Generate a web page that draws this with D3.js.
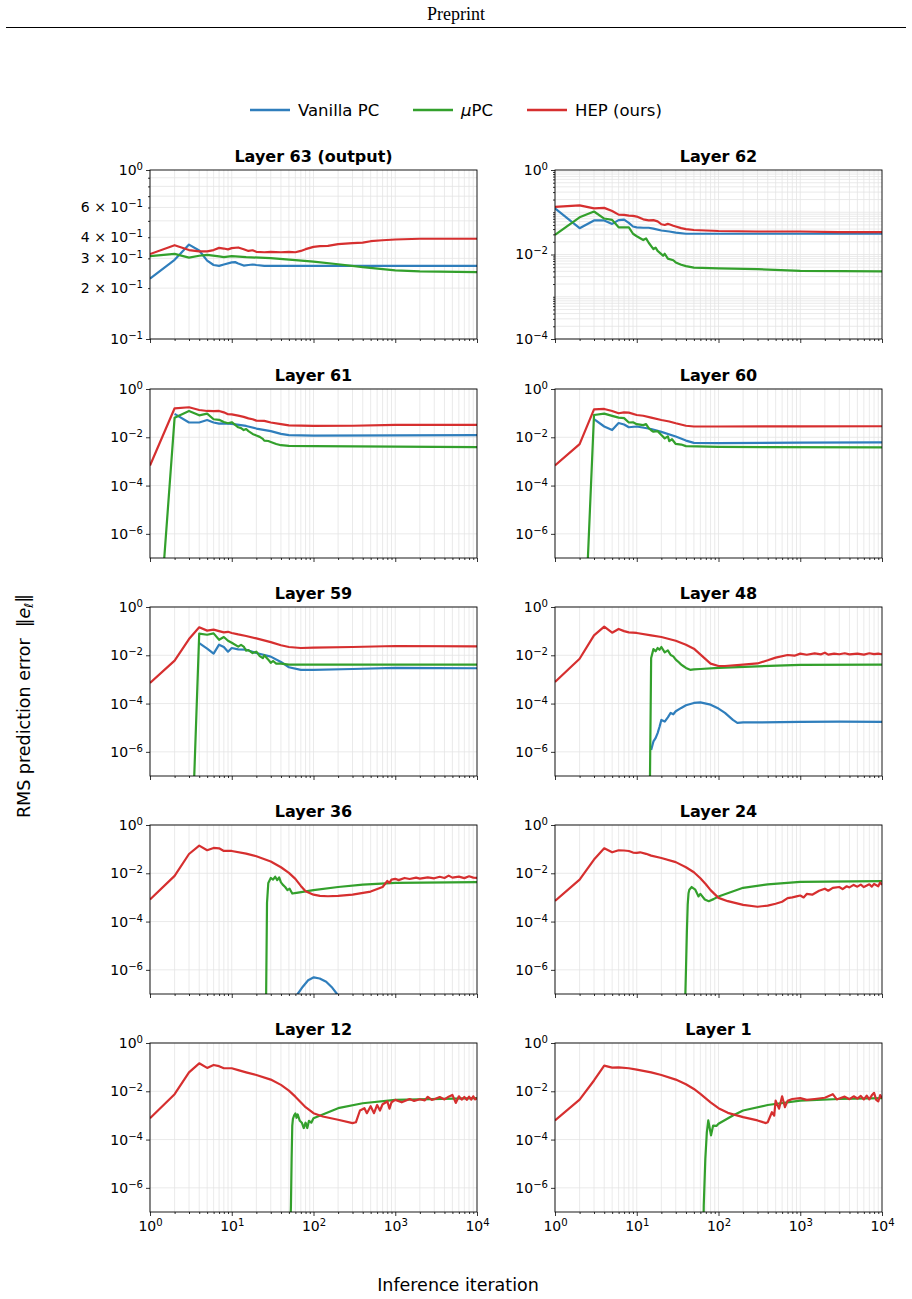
<!DOCTYPE html>
<html>
<head>
<meta charset="utf-8">
<script src="https://cdn.jsdelivr.net/npm/d3@7"></script>
<style>
  body { margin: 0; background: #fff; }
  svg { display: block; }
</style>
</head>
<body>
<svg id="chart" width="912" height="1299"></svg>
<script>
// ---- data: [iteration, RMS error] ----
const titles = ["Layer 63 (output)", "Layer 62", "Layer 61", "Layer 60", "Layer 59",
  "Layer 48", "Layer 36", "Layer 24", "Layer 12", "Layer 1"];
const seriesNames = ["Vanilla PC", "μPC", "HEP (ours)"];
const colors = ["#2f7ebc", "#33a02c", "#d62f2f"];

const vanilla63 = [[1,0.228],[2,0.294],[3,0.362],[4,0.334],[5,0.291],[6,0.274],[7,0.271],[8,0.276],[10,0.284],[11,0.285],[12,0.280],[14,0.272],[16,0.274],[18,0.276],[20,0.274],[25,0.271],[50,0.271],[100,0.271],[1000,0.271],[10000,0.271]];
const mupc63 = [[1,0.309],[2,0.319],[3,0.303],[4,0.311],[5,0.315],[7,0.308],[8,0.305],[10,0.309],[15,0.305],[30,0.301],[60,0.293],[100,0.287],[200,0.277],[400,0.266],[1000,0.255],[2000,0.251],[10000,0.249]];
const hep63 = [[1,0.318],[2,0.359],[3,0.336],[4,0.330],[5,0.330],[6,0.336],[7,0.346],[8,0.343],[9,0.339],[10,0.345],[12,0.348],[14,0.340],[16,0.332],[18,0.335],[20,0.328],[25,0.326],[30,0.328],[40,0.326],[50,0.328],[60,0.326],[70,0.332],[80,0.340],[100,0.351],[120,0.354],[150,0.356],[200,0.364],[300,0.369],[400,0.372],[500,0.379],[700,0.384],[1000,0.388],[2000,0.392],[10000,0.392]];

const vanilla62 = [[1,0.124],[2,0.042],[3,0.064],[4,0.064],[5,0.053],[6,0.065],[7,0.067],[8,0.056],[9,0.046],[10,0.044],[12,0.043],[14,0.043],[16,0.041],[20,0.037],[25,0.035],[30,0.033],[40,0.031],[100,0.031],[1000,0.031],[10000,0.031]];
const mupc62 = [[1,0.029],[2,0.076],[3,0.104],[4,0.071],[5,0.066],[6,0.044],[7,0.044],[8,0.044],[9,0.031],[10,0.027],[12,0.022],[13,0.024],[14,0.019],[16,0.0134],[17,0.0146],[18,0.0122],[20,0.0102],[21,0.0093],[22,0.0104],[24,0.0080],[28,0.0073],[30,0.0065],[35,0.0057],[40,0.0053],[50,0.0049],[100,0.0047],[300,0.0045],[1000,0.0041],[10000,0.0040]];
const hep62 = [[1,0.134],[2,0.146],[3,0.124],[4,0.127],[5,0.107],[6,0.088],[7,0.087],[8,0.083],[9,0.082],[10,0.079],[12,0.068],[14,0.064],[16,0.065],[18,0.061],[20,0.052],[22,0.050],[24,0.053],[25,0.052],[28,0.048],[30,0.046],[35,0.042],[40,0.040],[50,0.038],[70,0.037],[100,0.036],[300,0.035],[1000,0.035],[3000,0.034],[10000,0.034]];

const vanilla61 = [[2,0.093],[3,0.041],[4,0.041],[5,0.052],[6,0.041],[7,0.037],[8,0.038],[10,0.036],[15,0.0295],[20,0.023],[30,0.018],[40,0.0138],[50,0.0122],[100,0.0118],[1000,0.012],[10000,0.0122]];
const mupc61 = [[1,1e-15],[2,0.065],[3,0.123],[4,0.081],[5,0.095],[6,0.056],[7,0.053],[8,0.043],[9,0.038],[10,0.042],[12,0.026],[13,0.024],[14,0.020],[15,0.022],[16,0.018],[18,0.0138],[20,0.0118],[22,0.0104],[24,0.0086],[25,0.0073],[28,0.0070],[30,0.0064],[35,0.0053],[40,0.0047],[50,0.0044],[100,0.0043],[1000,0.0041],[10000,0.0039]];
const hep61 = [[1,6.8e-4],[2,0.159],[3,0.175],[4,0.135],[5,0.123],[6,0.121],[7,0.123],[8,0.108],[9,0.090],[10,0.089],[12,0.079],[14,0.070],[16,0.061],[18,0.056],[20,0.049],[25,0.048],[30,0.041],[40,0.035],[50,0.031],[100,0.0295],[300,0.030],[1000,0.0325],[10000,0.0325]];

const vanilla60 = [[3,0.056],[4,0.028],[5,0.020],[6,0.039],[7,0.034],[8,0.026],[10,0.028],[15,0.022],[20,0.0167],[30,0.0107],[40,0.0073],[50,0.0059],[100,0.0057],[1000,0.006],[10000,0.0062]];
const mupc60 = [[2,1e-15],[3,0.084],[4,0.096],[5,0.077],[6,0.065],[7,0.062],[8,0.041],[9,0.042],[10,0.035],[12,0.032],[13,0.035],[14,0.024],[15,0.0196],[16,0.017],[18,0.018],[20,0.0125],[22,0.009],[24,0.011],[25,0.0069],[27,0.0083],[30,0.0053],[35,0.0050],[40,0.0043],[100,0.0040],[10000,0.0038]];
const hep60 = [[1,6.8e-4],[2,0.0052],[3,0.144],[4,0.149],[5,0.123],[6,0.099],[7,0.108],[8,0.105],[10,0.084],[12,0.078],[15,0.065],[20,0.052],[25,0.045],[30,0.038],[40,0.030],[50,0.028],[100,0.028],[1000,0.0285],[10000,0.0286]];

const vanilla59 = [[4,0.032],[5,0.019],[6,0.0117],[7,0.0275],[8,0.022],[9,0.0141],[10,0.020],[12,0.0177],[15,0.017],[20,0.0124],[30,0.0088],[40,0.0053],[50,0.0032],[70,0.0025],[100,0.0025],[300,0.0027],[1000,0.0030],[10000,0.0029]];
const mupc59 = [[3,6e-14],[4,0.079],[5,0.071],[6,0.081],[7,0.044],[8,0.057],[9,0.040],[10,0.033],[12,0.0228],[13,0.027],[14,0.023],[15,0.0155],[16,0.0165],[18,0.0124],[20,0.0141],[22,0.0092],[24,0.0076],[25,0.0100],[28,0.0066],[30,0.0049],[32,0.0058],[35,0.0045],[40,0.0045],[50,0.0041],[100,0.0041],[10000,0.0041]];
const hep59 = [[1,7.1e-4],[2,0.006],[3,0.047],[4,0.144],[5,0.105],[6,0.115],[7,0.100],[8,0.089],[9,0.094],[10,0.084],[12,0.073],[15,0.063],[20,0.050],[30,0.035],[40,0.026],[50,0.022],[70,0.020],[100,0.0207],[300,0.022],[1000,0.0243],[10000,0.0235]];

const vanilla48 = [[15,1.2e-6],[16,2.7e-6],[17,3.7e-6],[18,6e-6],[19,1.1e-5],[20,2.1e-5],[22,1.8e-5],[24,2.7e-5],[26,4.1e-5],[28,3.6e-5],[30,4.8e-5],[35,6.6e-5],[40,8.5e-5],[50,1.06e-4],[60,1.12e-4],[80,9e-5],[100,6.2e-5],[120,4.1e-5],[150,2.1e-5],[170,1.58e-5],[200,1.67e-5],[300,1.65e-5],[1000,1.73e-5],[3000,1.8e-5],[10000,1.75e-5]];
const mupc48 = [[14,3e-13],[15,0.0077],[16,0.018],[17,0.0146],[18,0.020],[19,0.017],[20,0.022],[22,0.0132],[24,0.016],[26,0.0103],[28,0.0090],[30,0.0066],[32,0.0055],[35,0.0041],[37,0.0036],[40,0.0030],[45,0.0025],[50,0.0026],[60,0.0027],[100,0.0030],[300,0.0035],[1000,0.0040],[10000,0.0041]];
const hep48 = [[1,7.8e-4],[2,0.0072],[3,0.067],[4,0.153],[5,0.086],[6,0.123],[7,0.100],[8,0.089],[10,0.084],[15,0.067],[20,0.057],[30,0.040],[40,0.0275],[50,0.0188],[70,0.0068],[80,0.0045],[100,0.0036],[120,0.0036],[200,0.0041],[300,0.0046],[400,0.0062],[500,0.0080],[700,0.0103],[850,0.0096],[1000,0.0117],[1200,0.0105],[1500,0.0120],[1800,0.0110],[2000,0.0128],[2200,0.0106],[2600,0.0118],[3000,0.0110],[3500,0.0121],[4000,0.0109],[5000,0.0118],[6000,0.0107],[7000,0.0121],[8000,0.0111],[9000,0.0118],[10000,0.0110]];

const vanilla36 = [[50,1e-8],[64,1e-7],[74,2e-7],[86,3.7e-7],[101,4.9e-7],[119,4.4e-7],[143,3.2e-7],[170,1.8e-7],[194,1e-7],[250,3e-8],[10000,3e-8]];
const mupc36 = [[26,1e-9],[27,6e-4],[28,0.004],[30,0.0064],[32,0.0055],[34,0.0072],[36,0.0052],[38,0.0068],[40,0.0042],[42,0.0034],[45,0.0027],[48,0.0020],[51,0.0023],[55,0.00145],[62,0.00155],[100,0.0020],[200,0.0027],[400,0.0034],[1000,0.0040],[10000,0.0043]];
const hep36 = [[1,8.2e-4],[2,0.0078],[3,0.063],[4,0.140],[5,0.090],[6,0.112],[7,0.108],[8,0.084],[10,0.084],[15,0.065],[20,0.051],[30,0.031],[40,0.0178],[50,0.0104],[60,0.0059],[70,0.0030],[80,0.0018],[100,0.0013],[120,0.00116],[150,0.00112],[200,0.00116],[300,0.0013],[500,0.00175],[700,0.0027],[800,0.0048],[850,0.0040],[900,0.0055],[1000,0.0059],[1100,0.0052],[1300,0.0064],[1500,0.0058],[1800,0.0066],[2000,0.0060],[2500,0.0068],[3000,0.0062],[3500,0.0072],[4000,0.0064],[4500,0.0080],[5000,0.0066],[6000,0.0073],[7000,0.0063],[8000,0.0075],[9000,0.0066],[10000,0.0065]];

const vanilla24 = [];
const mupc24 = [[38,1e-9],[40,1e-6],[41,3.4e-5],[42,5e-4],[43,0.0015],[44,0.0021],[47,0.0027],[52,0.0021],[57,0.0011],[60,0.0014],[68,8.2e-4],[76,7e-4],[87,8.5e-4],[100,0.0011],[200,0.0025],[400,0.0035],[1000,0.0044],[10000,0.0047]];
const hep24 = [[1,7.2e-4],[2,0.0055],[3,0.037],[4,0.108],[5,0.074],[6,0.090],[7,0.088],[8,0.084],[9,0.072],[10,0.070],[11,0.074],[13,0.064],[15,0.054],[20,0.043],[30,0.029],[40,0.0178],[50,0.011],[60,0.0062],[70,0.0035],[80,0.0020],[100,9.6e-4],[130,7e-4],[200,4.9e-4],[300,4.1e-4],[400,4.6e-4],[500,5.5e-4],[600,6.6e-4],[700,9.3e-4],[800,0.0010],[900,0.0011],[1000,0.0012],[1100,0.0010],[1200,0.0014],[1400,0.0013],[1700,0.0019],[2000,0.0023],[2200,0.0019],[2500,0.0025],[3000,0.0027],[3300,0.0022],[3700,0.0029],[4000,0.0026],[4500,0.0033],[5000,0.0028],[5500,0.0034],[6000,0.0027],[7000,0.0035],[7500,0.0028],[8000,0.0036],[9000,0.0029],[9500,0.0042],[10000,0.0033]];

const vanilla12 = [];
const mupc12 = [[51,1e-9],[53,2e-7],[54,1.6e-5],[55,3.8e-4],[56,7.2e-4],[58,0.001],[60,0.0012],[62,0.0008],[64,0.0011],[68,0.0006],[72,0.0005],[76,0.0003],[80,0.0005],[84,0.0003],[88,0.0006],[94,0.0005],[100,7.7e-4],[200,0.0020],[400,0.0032],[1000,0.0044],[10000,0.0052]];
const hep12 = [[1,7.7e-4],[2,0.0076],[3,0.061],[4,0.144],[5,0.093],[6,0.123],[7,0.110],[8,0.090],[10,0.090],[12,0.075],[15,0.061],[20,0.0475],[30,0.0305],[40,0.0184],[50,0.0107],[60,0.006],[80,0.0022],[100,0.00124],[130,9e-4],[200,6.6e-4],[300,4.8e-4],[330,5.2e-4],[370,0.0016],[420,0.0020],[450,0.00124],[500,0.0024],[550,0.00124],[600,0.0027],[650,0.0016],[700,0.0029],[800,0.0038],[850,0.0019],[900,0.0035],[1000,0.0044],[1200,0.0035],[1500,0.0048],[1700,0.0040],[2000,0.0047],[2300,0.0042],[2500,0.0059],[2800,0.0044],[3000,0.0047],[3500,0.0058],[4000,0.0046],[4500,0.0060],[5000,0.0071],[5500,0.0033],[6000,0.0062],[6500,0.0045],[7000,0.0058],[7500,0.0044],[8000,0.0060],[8500,0.0045],[9000,0.0062],[9500,0.0046],[10000,0.0052]];

const vanilla1 = [];
const mupc1 = [[65,1e-9],[66,1.9e-7],[69,1.6e-5],[72,2e-4],[75,6.2e-4],[78,3e-4],[81,1.5e-4],[86,3.8e-4],[95,3.7e-4],[100,4.5e-4],[150,9.9e-4],[200,0.0016],[400,0.0027],[1000,0.0041],[3000,0.0048],[10000,0.0052]];
const hep1 = [[1,6.2e-4],[2,0.0045],[3,0.028],[4,0.116],[5,0.096],[6,0.097],[8,0.090],[10,0.079],[15,0.061],[20,0.0475],[30,0.0305],[40,0.0196],[50,0.0125],[60,0.0078],[80,0.0035],[100,0.0020],[130,0.00128],[200,8.5e-4],[300,6.2e-4],[380,4.8e-4],[400,5.2e-4],[450,0.00136],[480,9.9e-4],[500,0.0041],[550,0.0019],[600,0.0062],[650,0.0022],[700,0.0040],[800,0.0048],[1000,0.0052],[1200,0.0044],[1500,0.0048],[2000,0.0054],[2500,0.0076],[2800,0.0046],[3000,0.0050],[3500,0.0060],[4000,0.0047],[4500,0.0062],[5000,0.0050],[5500,0.0064],[6000,0.0046],[6500,0.0066],[7000,0.0046],[7500,0.0068],[8000,0.0086],[8500,0.0044],[9000,0.0038],[9500,0.0070],[10000,0.0052]];

const vanillaAll = [vanilla63, vanilla62, vanilla61, vanilla60, vanilla59, vanilla48, vanilla36, vanilla24, vanilla12, vanilla1];
const mupcAll = [mupc63, mupc62, mupc61, mupc60, mupc59, mupc48, mupc36, mupc24, mupc12, mupc1];
const hepAll = [hep63, hep62, hep61, hep60, hep59, hep48, hep36, hep24, hep12, hep1];

// tick values
const xMajor = [1, 10, 100, 1000, 10000];
const yDomains = [[0.1, 1], [1e-4, 1]];
const yDomainDefault = [1e-7, 1];
const yLabels63 = [[1, "", "0"], [0.6, "6 × ", "−1"], [0.4, "4 × ", "−1"], [0.3, "3 × ", "−1"], [0.2, "2 × ", "−1"], [0.1, "", "−1"]];
const yMajor62 = [1, 1e-2, 1e-4];
const yMajorDefault = [1, 1e-2, 1e-4, 1e-6];

// ---- layout ----
const svg = d3.select("#chart");
const colX = [150, 555];
const rowY = [170, 389, 607, 825, 1043];
const W = 327, H = 169;
const font = "DejaVu Sans, sans-serif";

function minorsOf(lo, hi) {
  const out = [];
  for (let e = Math.floor(Math.log10(lo)); e < Math.ceil(Math.log10(hi)); e++) {
    for (let k = 1; k <= 9; k++) {
      const v = k * Math.pow(10, e);
      if (v >= lo * 0.999 && v <= hi * 1.001) out.push(v);
    }
  }
  return out;
}

function sup(textSel, pre, exp) {
  textSel.text(null);
  textSel.append("tspan").text(pre + "10");
  textSel.append("tspan").attr("dy", "-0.5em").attr("font-size", "0.72em").text(exp);
}

// header
svg.append("text").attr("x", 456).attr("y", 20).attr("text-anchor", "middle")
  .attr("font-family", "Liberation Serif, Times New Roman, serif").attr("font-size", 18).text("Preprint");
svg.append("line").attr("x1", 6).attr("x2", 906).attr("y1", 27.5).attr("y2", 27.5)
  .attr("stroke", "#000").attr("stroke-width", 1);

// legend
const legX = [250, 413, 527];
seriesNames.forEach((name, i) => {
  svg.append("line").attr("x1", legX[i]).attr("x2", legX[i] + 40).attr("y1", 110).attr("y2", 110)
    .attr("stroke", colors[i]).attr("stroke-width", 2.6);
  const t = svg.append("text").attr("x", legX[i] + 48).attr("y", 116)
    .attr("font-family", font).attr("font-size", 16.5);
  if (i === 1) {
    t.append("tspan").attr("font-style", "italic").text("μ");
    t.append("tspan").text("PC");
  } else t.text(name);
});

titles.forEach((title, p) => {
  const col = p % 2, row = Math.floor(p / 2);
  const g = svg.append("g").attr("transform", `translate(${colX[col]},${rowY[row]})`);
  const yDom = p < 2 ? yDomains[p] : yDomainDefault;

  const x = d3.scaleLog().domain([1, 10000]).range([0, W]);
  const y = d3.scaleLog().domain(yDom).range([H, 0]);

  // grid
  const xGrid = minorsOf(1, 10000);
  let yGrid, yMinor;
  if (p === 0) { yMinor = minorsOf(0.1, 1).filter(v => v !== 0.1 && v !== 1); yGrid = minorsOf(0.1, 1); }
  else if (p === 1) { yMinor = minorsOf(1e-4, 1).filter(v => !yMajor62.includes(v)); yGrid = minorsOf(1e-4, 1); }
  else { yMinor = []; yGrid = yMajorDefault; }

  g.append("g").selectAll("line").data(xGrid).join("line")
    .attr("x1", d => x(d)).attr("x2", d => x(d)).attr("y1", 0).attr("y2", H)
    .attr("stroke", "#e4e4e4").attr("stroke-width", 0.8);
  g.append("g").selectAll("line").data(yGrid).join("line")
    .attr("y1", d => y(d)).attr("y2", d => y(d)).attr("x1", 0).attr("x2", W)
    .attr("stroke", "#e4e4e4").attr("stroke-width", 0.8);

  // lines
  const clipId = "clip" + p;
  g.append("clipPath").attr("id", clipId).append("rect").attr("width", W).attr("height", H);
  const line = d3.line().x(d => x(d[0])).y(d => y(d[1]));
  const lines = g.append("g").attr("clip-path", `url(#${clipId})`);
  [vanillaAll[p], mupcAll[p], hepAll[p]].forEach((data, i) => {
    if (!data.length) return;
    lines.append("path").datum(data).attr("d", line).attr("fill", "none")
      .attr("stroke", colors[i]).attr("stroke-width", 2.2).attr("stroke-linejoin", "round");
  });

  // x axis
  const xa = g.append("g").attr("transform", `translate(0,${H})`)
    .call(d3.axisBottom(x).tickValues(xMajor).tickSize(4).tickSizeOuter(0).tickFormat(() => ""));
  g.append("g").attr("transform", `translate(0,${H})`)
    .call(d3.axisBottom(x).tickValues(xGrid.filter(v => !xMajor.includes(v))).tickSize(2).tickSizeOuter(0).tickFormat(() => ""));
  if (row === 4) {
    xa.selectAll(".tick text").attr("font-family", font).attr("font-size", 14).attr("fill", "#000")
      .attr("y", 9).each(function (d) { sup(d3.select(this), "", String(Math.round(Math.log10(d)))); });
  }

  // y axis
  let ya;
  if (p === 0) {
    ya = g.append("g").call(d3.axisLeft(y).tickValues([1, 0.1]).tickSize(4).tickSizeOuter(0).tickFormat(() => ""));
    g.append("g").call(d3.axisLeft(y).tickValues(yMinor).tickSize(2).tickSizeOuter(0).tickFormat(() => ""));
    const lab = g.append("g");
    yLabels63.forEach(([v, pre, exp]) => {
      const t = lab.append("text").attr("x", -7).attr("y", y(v)).attr("dy", "0.35em").attr("text-anchor", "end")
        .attr("font-family", font).attr("font-size", 14);
      sup(t, pre, exp);
    });
  } else {
    const majors = p === 1 ? yMajor62 : yMajorDefault;
    ya = g.append("g").call(d3.axisLeft(y).tickValues(majors).tickSize(4).tickSizeOuter(0).tickFormat(() => ""));
    if (yMinor.length) g.append("g").call(d3.axisLeft(y).tickValues(yMinor).tickSize(2).tickSizeOuter(0).tickFormat(() => ""));
    ya.selectAll(".tick text").attr("font-family", font).attr("font-size", 14).attr("fill", "#000")
      .attr("x", -7).each(function (d) {
        const e = Math.round(Math.log10(d));
        sup(d3.select(this), "", e === 0 ? "0" : "−" + Math.abs(e));
      });
  }
  g.selectAll(".domain").remove();
  g.selectAll(".tick line").attr("stroke", "#000").attr("stroke-width", 0.8);

  // frame
  g.append("rect").attr("width", W).attr("height", H).attr("fill", "none")
    .attr("stroke", "#000").attr("stroke-width", 0.9);

  // title
  g.append("text").attr("x", W / 2).attr("y", -8).attr("text-anchor", "middle")
    .attr("font-family", font).attr("font-weight", "bold").attr("font-size", 16).text(title);
});

// axis labels
svg.append("text").attr("x", 458).attr("y", 1291).attr("text-anchor", "middle")
  .attr("font-family", font).attr("font-size", 17.5).text("Inference iteration");
const yl = svg.append("text").attr("transform", "translate(30,706) rotate(-90)").attr("text-anchor", "middle")
  .attr("font-family", font).attr("font-size", 17.5);
yl.append("tspan").text("RMS prediction error\u00a0\u00a0‖");
yl.append("tspan").attr("font-style", "italic").text("e");
yl.append("tspan").attr("font-style", "italic").attr("font-size", "0.7em").attr("dy", "0.25em").text("ℓ");
yl.append("tspan").attr("dy", "-0.25em").text("‖");
</script>
</body>
</html>
